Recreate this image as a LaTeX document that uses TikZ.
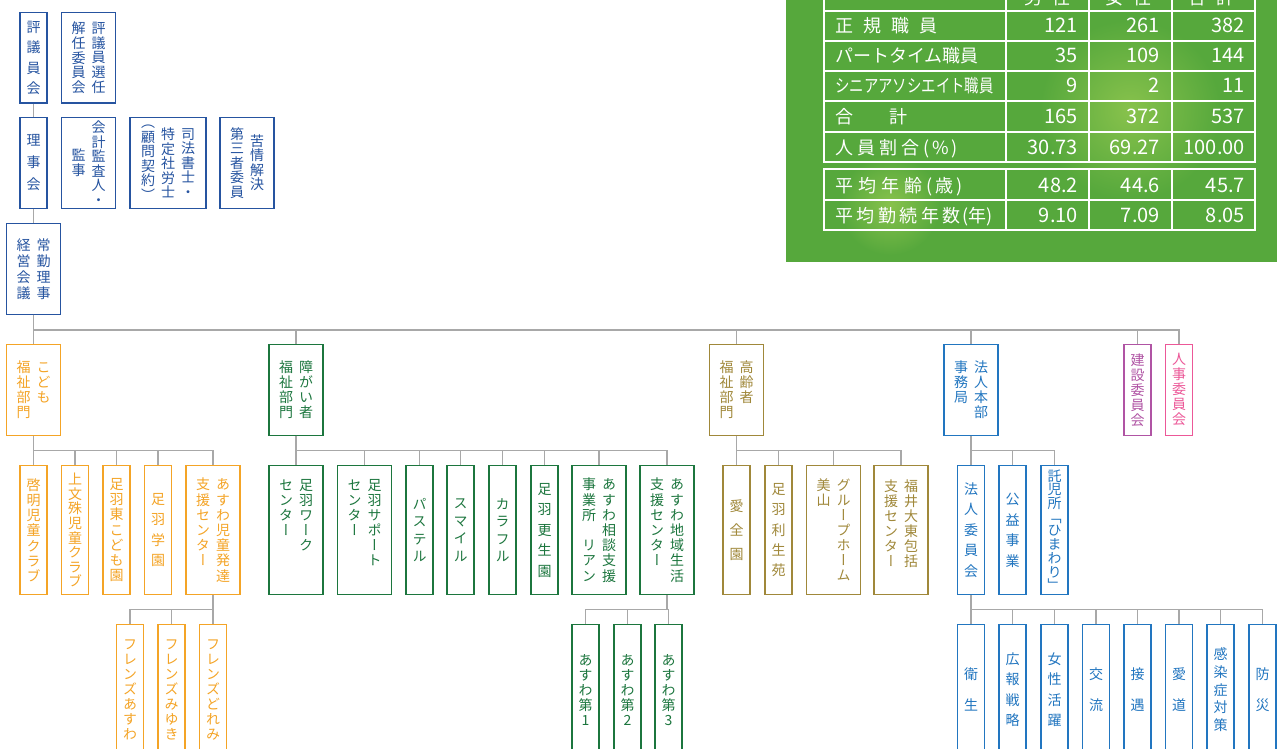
\documentclass[tikz,border=0pt]{standalone}
\usepackage{fontspec}
\setmainfont{Noto Sans CJK JP}
\newfontfamily\vjp{Noto Sans CJK JP}[RawFeature={+vert}]
\newfontfamily\narrowjp{Noto Sans CJK JP}[FakeStretch=0.8]

\definecolor{cblue}{RGB}{38,84,160}
\definecolor{corange}{RGB}{244,164,38}
\definecolor{cgreen}{RGB}{28,118,62}
\definecolor{cgold}{RGB}{160,136,58}
\definecolor{chonbu}{RGB}{34,118,192}
\definecolor{cpurple}{RGB}{176,84,164}
\definecolor{cpink}{RGB}{236,88,152}
\definecolor{cline}{RGB}{168,168,168}
\definecolor{cpanel}{RGB}{86,168,60}
\definecolor{cpanellight}{RGB}{136,194,76}

% vertical text: one character per line
\ExplSyntaxOn
\cs_new:Npn \vmap #1 { \tl_map_inline:nn {#1} { \hbox to 20pt {\hss ##1 \hss} } }
\ExplSyntaxOff
\newcommand\vcol[2][15pt]{\vtop{\baselineskip=#1\relax\lineskiplimit=-\maxdimen\vmap{#2}}}
\newcommand\vccol[2][15pt]{$\vcenter{\baselineskip=#1\relax\lineskiplimit=-\maxdimen\vmap{#2}}$}

\begin{document}
\begin{tikzpicture}[x=1pt, y=-1pt,
    box/.style={draw, line width=1.3pt, fill=white, inner sep=0pt, anchor=north, font=\vjp\fontsize{14}{15}\selectfont},
    topbox/.style={box, draw=cblue, text=cblue},
    kidbox/.style={box, draw=corange, text=corange},
    shobox/.style={box, draw=cgreen, text=cgreen},
    korbox/.style={box, draw=cgold, text=cgold},
    honbox/.style={box, draw=chonbu, text=chonbu},
    narrow/.style={minimum width=27pt}, wide/.style={minimum width=54pt}, wider/.style={minimum width=76pt},
    short/.style={minimum height=90.5pt}, tall/.style={minimum height=129pt}, taller/.style={minimum height=130pt},
    conn/.style={draw=cline, line width=1.2pt},
    bus/.style={draw=cline, line width=1.8pt},
    tline/.style={draw=white, line width=1.1pt},
    thead/.style={text=white, anchor=base, inner sep=0pt, font=\fontsize{18}{18}\selectfont},
    tlab/.style={text=white, anchor=base west, inner sep=0pt, font=\fontsize{18}{18}\selectfont},
    tnum/.style={text=white, anchor=base east, inner sep=0pt, font=\fontsize{20}{20}\selectfont}]
  \useasboundingbox (0,0) rectangle (1277,749);
  \clip (0,0) rectangle (1277,749);

  % staff table
  \begin{scope}
    \clip (786,-5) rectangle (1280,262);
    \fill[cpanel] (786,-5) rectangle (1280,262);
    \shade[inner color=cpanellight, outer color=cpanel] (1130,110) circle (90);
    \shade[inner color=cpanellight, outer color=cpanel] (890,205) circle (50);
  \end{scope}
  \draw[tline] (824,-20) rectangle (1255,162);
  \foreach \y in {11,41,71,101,132} \draw[tline] (824,\y) -- (1255,\y);
  \foreach \x in {1006,1089,1172} \draw[tline] (\x,-20) -- (\x,162);
  \draw[tline] (824,169) rectangle (1255,230);
  \draw[tline] (824,200) -- (1255,200);
  \foreach \x in {1006,1089,1172} \draw[tline] (\x,169) -- (\x,230);

  \node[thead] (hmale) at (1047.5,5) {男\hspace{10pt}性};
  \node[thead] (hfemale) at (1128.5,5) {女\hspace{10pt}性};
  \node[thead] (htotal) at (1211.5,5) {合\hspace{10pt}計};

  \foreach \y/\lab [count=\i] in {
      33/{正\hspace{10pt}規\hspace{10pt}職\hspace{10pt}員},
      63/{パートタイム職員},
      93/{\narrowjp シニアアソシエイト職員},
      124/{合\hspace{36pt}計},
      154/{人\hspace{4pt}員\hspace{4pt}割\hspace{4pt}合\hspace{4pt}(\hspace{3pt}\%\hspace{3pt})},
      192/{平\hspace{5pt}均\hspace{5pt}年\hspace{5pt}齢\hspace{4pt}(\hspace{3pt}歳\hspace{3pt})},
      222/{平\hspace{3.5pt}均\hspace{3.5pt}勤\hspace{3.5pt}続\hspace{3.5pt}年\hspace{3.5pt}数\hspace{2pt}(年)}}
    \node[tlab] (lab\i) at (835,\y) {\lab};

  \foreach \y/\a/\b/\c [count=\i] in {33/121/261/382, 63/35/109/144, 93/9/2/11, 124/165/372/537,
      154/30.73/69.27/100.00, 192/48.2/44.6/45.7, 222/9.10/7.09/8.05} {
    \node[tnum] (male\i) at (1078,\y) {\a};
    \node[tnum] (female\i) at (1160,\y) {\b};
    \node[tnum] (total\i) at (1245,\y) {\c};
  }

  % board
  \node[topbox, narrow, short] (hyogi) at (33.5,12) {\vccol[20.5pt]{評議員会}};
  \node[topbox, wide, short] (senin) at (88.5,12) {\vccol[14.7pt]{解任委員会}\vccol[14.7pt]{評議員選任}};
  \node[topbox, narrow, short] (riji) at (33.5,117) {\vccol[22pt]{理事会}};
  \node[topbox, wide, short] (kansa) at (88.5,117) {\vccol[14.5pt]{監事}\vccol[14.5pt]{会計監査人・}};
  \node[topbox, wider, short] (shiho) at (168,117) {\vccol[14.5pt]{（顧問契約）}\vccol[14.5pt]{特定社労士}\vccol[14.5pt]{司法書士・}};
  \node[topbox, wide, short] (kujo) at (247,117) {\vccol[14.5pt]{第三者委員}\vccol[14.5pt]{苦情解決}};
  \node[topbox, wide, short] (keiei) at (33.5,223) {\vccol[16pt]{経営会議}\vccol[16pt]{常勤理事}};

  % departments
  \node[kidbox, wide, short] (kodomo) at (33.5,344) {\vcol{福祉部門}\vcol{こども}};
  \node[shobox, wide, short] (shogai) at (296,344) {\vcol{福祉部門}\vcol{障がい者}};
  \node[korbox, wide, short] (koreisha) at (736.5,344) {\vcol{福祉部門}\vcol{高齢者}};
  \node[honbox, wide, short] (honbu) at (971,344) {\vcol{事務局}\vcol{法人本部}};
  \node[box, narrow, short, draw=cpurple, text=cpurple] (kensetsu) at (1137.5,344) {\vcol{建設委員会}};
  \node[box, narrow, short, draw=cpink, text=cpink] (jinji) at (1179,344) {\vcol{人事委員会}};

  % children
  \node[kidbox, narrow, tall] (keimei) at (33.5,465) {\vcol[15.2pt]{啓明児童クラブ}};
  \node[kidbox, narrow, tall] (kamimonju) at (75,465) {\vcol[14.6pt]{上文殊児童クラブ}};
  \node[kidbox, narrow, tall] (higashi) at (116.5,465) {\vcol[15.2pt]{足羽東こども園}};
  \node[kidbox, narrow, tall] (gakuen) at (158,465) {\vcol[20.5pt]{足羽学園}};
  \node[kidbox, wide, tall] (hattatsu) at (213,465) {\vcol[15.2pt]{支援センター}\vcol[15.2pt]{あすわ児童発達}};
  \node[kidbox, narrow, taller] (fasuwa) at (130,624) {\vcol{フレンズあすわ}};
  \node[kidbox, narrow, taller] (fmiyuki) at (171.5,624) {\vcol{フレンズみゆき}};
  \node[kidbox, narrow, taller] (fdoremi) at (213,624) {\vcol{フレンズどれみ}};

  \node[shobox, wide, tall] (work) at (296,465) {\vcol{センター}\vcol{足羽ワーク　　}};
  \node[shobox, wide, tall] (support) at (364.5,465) {\vcol{センター}\vcol{足羽サポート　}};
  \node[shobox, narrow, tall] (pastel) at (419.5,465) {\vcol[17.5pt]{パステル}};
  \node[shobox, narrow, tall] (smile) at (460.5,465) {\vcol[17.5pt]{スマイル}};
  \node[shobox, narrow, tall] (colorful) at (502.5,465) {\vcol[17.5pt]{カラフル}};
  \node[shobox, narrow, tall] (kosei) at (544.5,465) {\vcol[20.5pt]{足羽更生園}};
  \node[shobox, wide, tall] (rian) at (599,465) {\vcol[15.2pt]{事業所　リアン}\vcol[15.2pt]{あすわ相談支援}};
  \node[shobox, wide, tall] (chiiki) at (667,465) {\vcol[15.2pt]{支援センター}\vcol[15.2pt]{あすわ地域生活}};
  \node[shobox, narrow, taller] (daiichi) at (585.5,624) {\vcol{あすわ第1}};
  \node[shobox, narrow, taller] (daini) at (627.5,624) {\vcol{あすわ第2}};
  \node[shobox, narrow, taller] (daisan) at (668.5,624) {\vcol{あすわ第3}};

  \node[korbox, narrow, tall] (aizen) at (736.5,465) {\vcol[24pt]{愛全園}};
  \node[korbox, narrow, tall] (risei) at (778.5,465) {\vcol[20.3pt]{足羽利生苑}};
  \node[korbox, wide, tall] (miyama) at (833.5,465) {\vcol{美山}\vcol{グループホーム}};
  \node[korbox, wide, tall] (daito) at (901,465) {\vcol{支援センター}\vcol{福井大東包括　}};

  \node[honbox, narrow, tall] (hojin) at (971,465) {\vcol[20.5pt]{法人委員会}};
  \node[honbox, narrow, tall] (koeki) at (1012.5,465) {\vcol[20.5pt]{公益事業}};
  \node[honbox, narrow, tall] (takuji) at (1054.5,465) {\vcol[13.7pt]{託児所「ひまわり」}};
  \node[honbox, narrow, taller] (eisei) at (971,624) {\vcol[31pt]{衛生}};
  \node[honbox, narrow, taller] (koho) at (1012.5,624) {\vcol[20.3pt]{広報戦略}};
  \node[honbox, narrow, taller] (josei) at (1054.5,624) {\vcol[20.3pt]{女性活躍}};
  \node[honbox, narrow, taller] (koryu) at (1096,624) {\vcol[31pt]{交流}};
  \node[honbox, narrow, taller] (setsugu) at (1137.5,624) {\vcol[31pt]{接遇}};
  \node[honbox, narrow, taller] (aido) at (1179,624) {\vcol[31pt]{愛道}};
  \node[honbox, narrow, taller] (kansen) at (1220.5,624) {\vcol[17.8pt]{感染症対策}};
  \node[honbox, narrow, taller] (bosai) at (1262.5,624) {\vcol[31pt]{防災}};

  % connectors
  \draw[conn] (hyogi) -- (riji);
  \draw[conn] (riji) -- (keiei);
  \foreach \d in {kodomo, shogai, koreisha, honbu, kensetsu, jinji}
    \draw[bus] (keiei.south) -- ++(0,15) -| (\d.north);
  \foreach \c in {keimei, kamimonju, higashi, gakuen, hattatsu}
    \draw[conn] (kodomo.south) -- ++(0,15) -| (\c.north);
  \foreach \c in {fasuwa, fmiyuki, fdoremi}
    \draw[conn] (hattatsu.south) -- ++(0,14) -| (\c.north);
  \foreach \c in {work, support, pastel, smile, colorful, kosei, rian, chiiki}
    \draw[conn] (shogai.south) -- ++(0,15) -| (\c.north);
  \foreach \c in {daiichi, daini, daisan}
    \draw[conn] (chiiki.south) -- ++(0,14) -| (\c.north);
  \foreach \c in {aizen, risei, miyama, daito}
    \draw[conn] (koreisha.south) -- ++(0,15) -| (\c.north);
  \foreach \c in {hojin, koeki, takuji}
    \draw[conn] (honbu.south) -- ++(0,15) -| (\c.north);
  \foreach \c in {eisei, koho, josei, koryu, setsugu, aido, kansen, bosai}
    \draw[conn] (hojin.south) -- ++(0,14) -| (\c.north);
\end{tikzpicture}
\end{document}
